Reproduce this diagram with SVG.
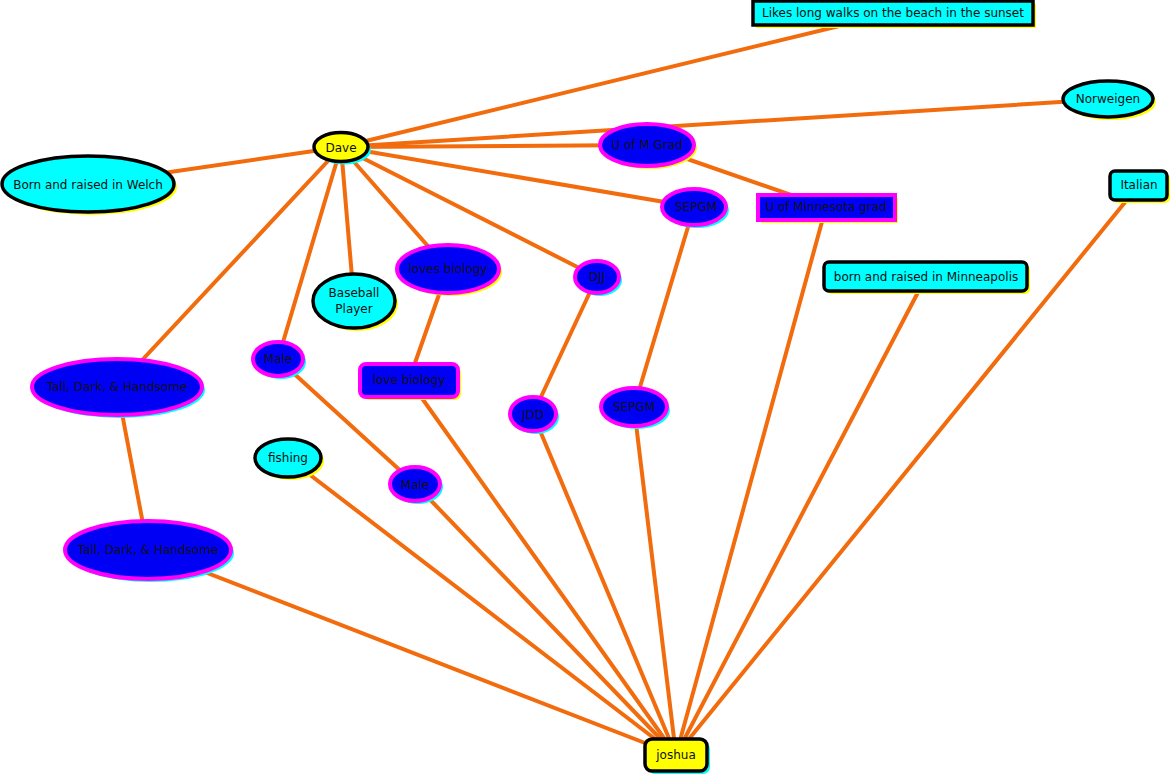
<svg xmlns="http://www.w3.org/2000/svg" width="1175" height="777" viewBox="0 0 1175 777">
<style>
.e{stroke:#f26b0c;stroke-width:4;fill:none;stroke-linecap:round}
.c{fill:#00ffff;stroke:#000;stroke-width:3.5}
.y{fill:#ffff00;stroke:#000;stroke-width:3.5}
.b{fill:#0000f5;stroke:#ff00ff;stroke-width:4}
.sy{fill:#ffff00;stroke:none}
.sc{fill:#00ffff;stroke:none}
text{font-family:"DejaVu Sans",Verdana,sans-serif;font-size:12px;fill:#111;text-anchor:middle;dominant-baseline:central}
</style>
<rect width="1175" height="777" fill="#fff"/>
<g id="connectors">
<line class="e" x1="341" y1="147" x2="893" y2="13"/>
<line class="e" x1="341" y1="147" x2="1108" y2="99"/>
<line class="e" x1="341" y1="147" x2="647" y2="145"/>
<line class="e" x1="341" y1="147" x2="88" y2="184"/>
<line class="e" x1="341" y1="147" x2="694" y2="207"/>
<line class="e" x1="341" y1="147" x2="597" y2="277"/>
<line class="e" x1="341" y1="147" x2="448" y2="269"/>
<line class="e" x1="341" y1="147" x2="354" y2="301"/>
<line class="e" x1="341" y1="147" x2="278" y2="359"/>
<line class="e" x1="341" y1="147" x2="117" y2="387"/>
<line class="e" x1="647" y1="145" x2="826" y2="207"/>
<line class="e" x1="448" y1="269" x2="409" y2="380"/>
<line class="e" x1="278" y1="359" x2="415" y2="484"/>
<line class="e" x1="117" y1="387" x2="148" y2="550"/>
<line class="e" x1="597" y1="277" x2="533" y2="414"/>
<line class="e" x1="694" y1="207" x2="634" y2="407"/>
<line class="e" x1="826" y1="207" x2="676" y2="755"/>
<line class="e" x1="1139" y1="185" x2="676" y2="755"/>
<line class="e" x1="926" y1="277" x2="676" y2="755"/>
<line class="e" x1="634" y1="407" x2="676" y2="755"/>
<line class="e" x1="533" y1="414" x2="676" y2="755"/>
<line class="e" x1="409" y1="380" x2="676" y2="755"/>
<line class="e" x1="415" y1="484" x2="676" y2="755"/>
<line class="e" x1="288" y1="458" x2="676" y2="755"/>
<line class="e" x1="148" y1="550" x2="676" y2="755"/>
</g>
<g id="dave"><ellipse class="sc" cx="344" cy="150" rx="27" ry="14.5"/><ellipse class="y" cx="341" cy="147" rx="27" ry="14.5"/><text x="341" y="148">Dave</text></g>
<g id="likes"><rect class="sy" x="756" y="4" width="280" height="24"/><rect class="c" x="753" y="1" width="280" height="24"/><text x="893" y="13">Likes long walks on the beach in the sunset</text></g>
<g id="norweigen"><ellipse class="sy" cx="1111" cy="102" rx="45" ry="18"/><ellipse class="c" cx="1108" cy="99" rx="45" ry="18"/><text x="1108" y="99">Norweigen</text></g>
<g id="uofmgrad"><ellipse class="sy" cx="650" cy="148" rx="47" ry="21"/><ellipse class="b" cx="647" cy="145" rx="47" ry="21"/><text x="647" y="145">U of M Grad</text></g>
<g id="uofminnesota"><rect class="sy" x="761" y="198" width="137" height="25"/><rect class="b" x="758" y="195" width="137" height="25"/><text x="826" y="207">U of Minnesota grad</text></g>
<g id="sepgm1"><ellipse class="sc" cx="697" cy="210" rx="32" ry="18"/><ellipse class="b" cx="694" cy="207" rx="32" ry="18"/><text x="696" y="207">SEPGM</text></g>
<g id="welch"><ellipse class="sy" cx="91" cy="187" rx="86" ry="28"/><ellipse class="c" cx="88" cy="184" rx="86" ry="28"/><text x="88" y="185">Born and raised in Welch</text></g>
<g id="baseball"><ellipse class="sy" cx="357" cy="304" rx="41" ry="27"/><ellipse class="c" cx="354" cy="301" rx="41" ry="27"/><text x="354" y="293">Baseball</text><text x="354" y="309">Player</text></g>
<g id="lovesbiology"><ellipse class="sy" cx="451" cy="272" rx="51" ry="24"/><ellipse class="b" cx="448" cy="269" rx="51" ry="24"/><text x="448" y="269">loves biology</text></g>
<g id="male1"><ellipse class="sc" cx="281" cy="362" rx="25" ry="17"/><ellipse class="b" cx="278" cy="359" rx="25" ry="17"/><text x="278" y="359">Male</text></g>
<g id="lovebiology"><rect class="sy" x="363" y="367" width="98" height="33" rx="6"/><rect class="b" x="360" y="364" width="98" height="33" rx="6"/><text x="409" y="380">love biology</text></g>
<g id="tall1"><ellipse class="sc" cx="120" cy="390" rx="85" ry="28"/><ellipse class="b" cx="117" cy="387" rx="85" ry="28"/><text x="117" y="387">Tall, Dark, &amp; Handsome</text></g>
<g id="tall2"><ellipse class="sc" cx="151" cy="553" rx="83" ry="29"/><ellipse class="b" cx="148" cy="550" rx="83" ry="29"/><text x="148" y="550">Tall, Dark, &amp; Handsome</text></g>
<g id="djj"><ellipse class="sc" cx="600" cy="280" rx="22" ry="16"/><ellipse class="b" cx="597" cy="277" rx="22" ry="16"/><text x="597" y="277">DJJ</text></g>
<g id="jdd"><ellipse class="sc" cx="536" cy="417" rx="23" ry="17"/><ellipse class="b" cx="533" cy="414" rx="23" ry="17"/><text x="533" y="415">JDD</text></g>
<g id="sepgm2"><ellipse class="sc" cx="637" cy="410" rx="33" ry="19"/><ellipse class="b" cx="634" cy="407" rx="33" ry="19"/><text x="634" y="407">SEPGM</text></g>
<g id="fishing"><ellipse class="sy" cx="291" cy="461" rx="33" ry="19"/><ellipse class="c" cx="288" cy="458" rx="33" ry="19"/><text x="288" y="458">fishing</text></g>
<g id="male2"><ellipse class="sc" cx="418" cy="487" rx="25" ry="17"/><ellipse class="b" cx="415" cy="484" rx="25" ry="17"/><text x="415" y="485">Male</text></g>
<g id="italian"><rect class="sy" x="1113" y="174" width="57" height="29" rx="5"/><rect class="c" x="1110" y="171" width="57" height="29" rx="5"/><text x="1139" y="185">Italian</text></g>
<g id="minneapolis"><rect class="sy" x="827" y="265" width="203" height="29" rx="5"/><rect class="c" x="824" y="262" width="203" height="29" rx="5"/><text x="926" y="277">born and raised in Minneapolis</text></g>
<g id="joshua"><rect class="sc" x="648" y="742" width="62" height="32" rx="7"/><rect class="y" x="645" y="739" width="62" height="32" rx="7"/><text x="676" y="755">joshua</text></g>
</svg>
